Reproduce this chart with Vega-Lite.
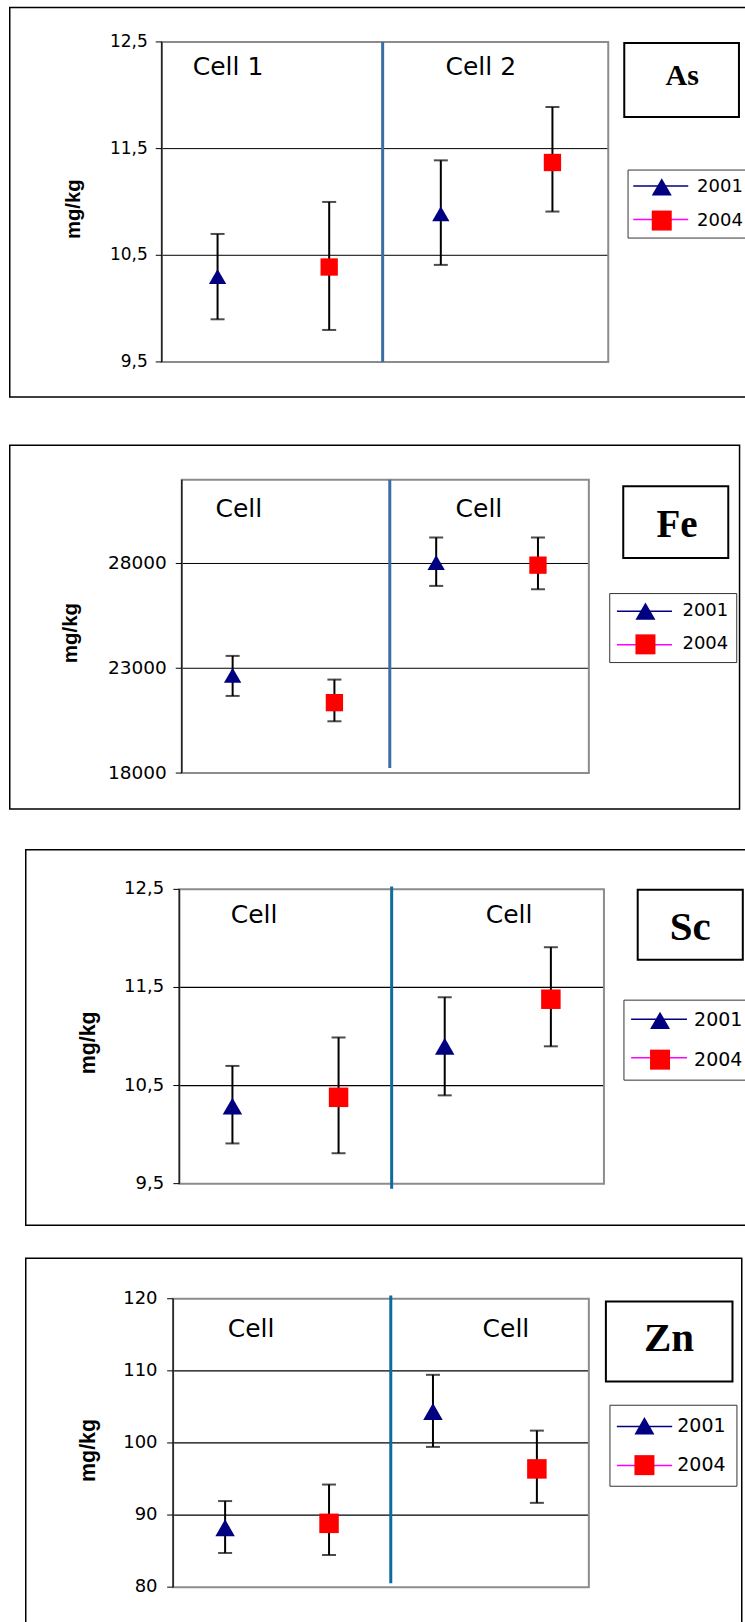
{
  "$schema": "https://vega.github.io/schema/vega-lite/v6.json",
  "padding": {"left": 8.75, "top": 6.55, "right": 0, "bottom": 0},
  "background": "white",
  "datasets": {
    "as": [
      {"cell": "Cell 1", "year": "2001", "mean": 10.30, "low": 9.90, "high": 10.70},
      {"cell": "Cell 1", "year": "2004", "mean": 10.39, "low": 9.80, "high": 11.00},
      {"cell": "Cell 2", "year": "2001", "mean": 10.89, "low": 10.41, "high": 11.39},
      {"cell": "Cell 2", "year": "2004", "mean": 11.37, "low": 10.91, "high": 11.89}
    ],
    "fe": [
      {"cell": "Cell 1", "year": "2001", "mean": 22670, "low": 21680, "high": 23590},
      {"cell": "Cell 1", "year": "2004", "mean": 21360, "low": 20470, "high": 22460},
      {"cell": "Cell 2", "year": "2001", "mean": 28050, "low": 26930, "high": 29240},
      {"cell": "Cell 2", "year": "2004", "mean": 27920, "low": 26770, "high": 29240}
    ],
    "sc": [
      {"cell": "Cell 1", "year": "2001", "mean": 10.29, "low": 9.91, "high": 10.70},
      {"cell": "Cell 1", "year": "2004", "mean": 10.38, "low": 9.81, "high": 10.99},
      {"cell": "Cell 2", "year": "2001", "mean": 10.90, "low": 10.40, "high": 11.40},
      {"cell": "Cell 2", "year": "2004", "mean": 11.38, "low": 10.90, "high": 11.91}
    ],
    "zn": [
      {"cell": "Cell 1", "year": "2001", "mean": 88.24, "low": 84.74, "high": 91.94},
      {"cell": "Cell 1", "year": "2004", "mean": 88.85, "low": 84.46, "high": 94.23},
      {"cell": "Cell 2", "year": "2001", "mean": 104.36, "low": 99.45, "high": 109.45},
      {"cell": "Cell 2", "year": "2004", "mean": 96.40, "low": 91.69, "high": 101.71}
    ],
    "ticks_dec": [
      {"v": 9.5, "label": "9,5"}, {"v": 10.5, "label": "10,5"}, {"v": 11.5, "label": "11,5"}, {"v": 12.5, "label": "12,5"}
    ],
    "ticks_fe": [
      {"v": 18000, "label": "18000"}, {"v": 23000, "label": "23000"}, {"v": 28000, "label": "28000"}
    ],
    "ticks_zn": [
      {"v": 80, "label": "80"}, {"v": 90, "label": "90"}, {"v": 100, "label": "100"}, {"v": 110, "label": "110"}, {"v": 120, "label": "120"}
    ]
  },
  "spacing": 45.8,
  "resolve": {"scale": {"color": "independent", "shape": "independent", "xOffset": "independent"}, "legend": {"color": "independent", "shape": "independent"}},
  "vconcat": [
    {
      "width": 745, "height": 389.4,
      "data": {"name": "as"},
      "layer": [
        {
          "data": {"name": "ticks_dec"},
          "transform": [{"filter": "datum.v > 9.5 && datum.v < 12.5"}],
          "mark": {"type": "rule", "color": "#000", "strokeWidth": 1},
          "encoding": {
            "x": {"datum": "Cell 1", "type": "nominal", "bandPosition": 0, "scale": {"type": "band", "domain": ["Cell 1", "Cell 2"], "range": [152, 598.5], "paddingInner": 0, "paddingOuter": 0}, "axis": null},
            "x2": {"datum": "Cell 2", "bandPosition": 1},
            "y": {"field": "v", "type": "quantitative", "scale": {"domain": [9.5, 12.5], "range": [354.4, 34.4], "nice": false, "zero": false}, "axis": null}
          }
        },
        {
          "data": {"values": [{}]},
          "mark": {"type": "rect", "fill": "transparent", "stroke": "#8c8c8c", "strokeWidth": 2},
          "encoding": {"x": {"datum": "Cell 1", "type": "nominal", "bandPosition": 0, "axis": null}, "x2": {"datum": "Cell 2", "bandPosition": 1}, "y": {"datum": 12.5, "type": "quantitative", "axis": null}, "y2": {"datum": 9.5}}
        },
        {
          "data": {"values": [{}]},
          "mark": {"type": "rule", "color": "#222", "strokeWidth": 1.5},
          "encoding": {"x": {"datum": "Cell 1", "type": "nominal", "bandPosition": 0, "axis": null}, "y": {"datum": 12.5, "type": "quantitative", "axis": null}, "y2": {"datum": 9.5}}
        },
        {
          "data": {"name": "ticks_dec"},
          "mark": {"type": "rule", "color": "#000", "strokeWidth": 1},
          "encoding": {"x": {"datum": "Cell 1", "type": "nominal", "bandPosition": -0.0269, "axis": null}, "x2": {"datum": "Cell 1", "bandPosition": 0}, "y": {"field": "v", "type": "quantitative", "axis": null}}
        },
        {
          "data": {"name": "ticks_dec"},
          "mark": {"type": "text", "align": "right", "baseline": "middle", "font": "DejaVu Sans", "fontSize": 17, "color": "#000"},
          "encoding": {"x": {"datum": "Cell 1", "type": "nominal", "bandPosition": -0.0627, "axis": null}, "y": {"field": "v", "type": "quantitative", "axis": null}, "text": {"field": "label"}}
        },
        {
          "data": {"values": [{}]},
          "mark": {"type": "text", "angle": 270, "align": "center", "baseline": "middle", "font": "Liberation Sans", "fontWeight": "bold", "fontSize": 20.3, "color": "#000"},
          "encoding": {"x": {"datum": "Cell 1", "type": "nominal", "bandPosition": -0.395, "axis": null}, "y": {"datum": 10.932, "type": "quantitative", "axis": null}, "text": {"value": "mg/kg"}}
        },
        {
          "mark": {"type": "rule", "color": "#000", "strokeWidth": 2},
          "encoding": {
            "x": {"field": "cell", "type": "nominal", "axis": null},
            "xOffset": {"field": "year", "type": "nominal", "scale": {"paddingInner": 0, "paddingOuter": 0}},
            "y": {"field": "low", "type": "quantitative", "axis": null},
            "y2": {"field": "high"}
          }
        },
        {
          "mark": {"type": "tick", "orient": "horizontal", "size": 14, "thickness": 2, "color": "#000"},
          "encoding": {"x": {"field": "cell", "type": "nominal", "axis": null}, "xOffset": {"field": "year", "type": "nominal"}, "y": {"field": "low", "type": "quantitative", "axis": null}}
        },
        {
          "mark": {"type": "tick", "orient": "horizontal", "size": 14, "thickness": 2, "color": "#000"},
          "encoding": {"x": {"field": "cell", "type": "nominal", "axis": null}, "xOffset": {"field": "year", "type": "nominal"}, "y": {"field": "high", "type": "quantitative", "axis": null}}
        },
        {
          "data": {"values": [{}]},
          "mark": {"type": "rule", "color": "#000080", "strokeWidth": 1.5},
          "encoding": {"x": {"datum": "Cell 2", "type": "nominal", "bandPosition": 1.112, "axis": null}, "x2": {"datum": "Cell 2", "bandPosition": 1.3583}, "y": {"datum": 11.150, "type": "quantitative", "axis": null}}
        },
        {
          "data": {"values": [{}]},
          "mark": {"type": "rule", "color": "#FF00FF", "strokeWidth": 1.5},
          "encoding": {"x": {"datum": "Cell 2", "type": "nominal", "bandPosition": 1.112, "axis": null}, "x2": {"datum": "Cell 2", "bandPosition": 1.3583}, "y": {"datum": 10.835, "type": "quantitative", "axis": null}}
        },
        {
          "mark": {"type": "point", "filled": true, "size": 300, "opacity": 1},
          "encoding": {
            "x": {"field": "cell", "type": "nominal", "axis": null},
            "xOffset": {"field": "year", "type": "nominal"},
            "y": {"field": "mean", "type": "quantitative", "axis": null},
            "shape": {"field": "year", "type": "nominal", "scale": {"domain": ["2001", "2004"], "range": ["triangle-up", "square"]}, "legend": null},
            "color": {"field": "year", "type": "nominal", "scale": {"domain": ["2001", "2004"], "range": ["#000080", "#FF0000"]},
              "legend": {"orient": "none", "legendX": 617.8, "legendY": 162, "title": null, "direction": "vertical", "padding": 6.4, "rowPadding": 13.6, "symbolSize": 400, "symbolOffset": 16.8, "labelOffset": 24.3, "labelFontSize": 18, "labelFont": "DejaVu Sans", "labelColor": "#000", "strokeColor": "#333", "fillColor": "transparent",
                "encode": {"symbols": {
                  "shape": {"condition": {"test": "datum.value == '2001'", "value": "M-0.9,0.78L0,-0.78L0.9,0.78Z"}, "value": "M-0.97,-0.97L0.97,-0.97L0.97,0.97L-0.97,0.97Z"}
                }}}}
          }
        },
        {
          "data": {"values": [{}]},
          "mark": {"type": "rule", "color": "#3b6ea5", "strokeWidth": 3},
          "encoding": {"x": {"datum": "Cell 2", "type": "nominal", "bandPosition": -0.0105, "axis": null}, "y": {"datum": 12.5, "type": "quantitative", "axis": null}, "y2": {"datum": 9.5}}
        },
        {
          "data": {"values": [{}]},
          "mark": {"type": "text", "font": "DejaVu Sans", "fontSize": 25, "align": "center", "baseline": "alphabetic", "color": "#000"},
          "encoding": {"x": {"datum": "Cell 1", "type": "nominal", "bandPosition": 0.297, "axis": null}, "y": {"datum": 12.19, "type": "quantitative", "axis": null}, "text": {"value": "Cell 1"}}
        },
        {
          "data": {"values": [{}]},
          "mark": {"type": "text", "font": "DejaVu Sans", "fontSize": 25, "align": "center", "baseline": "alphabetic", "color": "#000"},
          "encoding": {"x": {"datum": "Cell 2", "type": "nominal", "bandPosition": 0.429, "axis": null}, "y": {"datum": 12.19, "type": "quantitative", "axis": null}, "text": {"value": "Cell 2"}}
        },
        {
          "data": {"values": [{}]},
          "mark": {"type": "rect", "fill": "#fff", "stroke": "#000", "strokeWidth": 2},
          "encoding": {"x": {"datum": "Cell 2", "type": "nominal", "bandPosition": 1.0717, "axis": null}, "x2": {"datum": "Cell 2", "bandPosition": 1.5855}, "y": {"datum": 12.49, "type": "quantitative", "axis": null}, "y2": {"datum": 11.797}}
        },
        {
          "data": {"values": [{}]},
          "mark": {"type": "text", "font": "Liberation Serif", "fontWeight": "bold", "fontSize": 30, "align": "center", "baseline": "alphabetic", "color": "#000"},
          "encoding": {"x": {"datum": "Cell 2", "type": "nominal", "bandPosition": 1.3315, "axis": null}, "y": {"datum": 12.094, "type": "quantitative", "axis": null}, "text": {"value": "As"}}
        }
      ]
    },
    {
      "spacing": 38.3,
      "resolve": {"scale": {"color": "independent", "shape": "independent", "xOffset": "independent"}, "legend": {"color": "independent", "shape": "independent"}},
      "vconcat": [
        {
          "width": 729.8, "height": 363.7,
          "data": {"name": "fe"},
          "layer": [
            {
              "data": {"name": "ticks_fe"},
              "transform": [{"filter": "datum.v > 18000"}],
              "mark": {"type": "rule", "color": "#000", "strokeWidth": 1},
              "encoding": {
                "x": {"datum": "Cell 1", "type": "nominal", "bandPosition": 0, "scale": {"type": "band", "domain": ["Cell 1", "Cell 2"], "range": [172, 579.1], "paddingInner": 0, "paddingOuter": 0}, "axis": null},
                "x2": {"datum": "Cell 2", "bandPosition": 1},
                "y": {"field": "v", "type": "quantitative", "scale": {"domain": [18000, 32000], "range": [327.7, 34.3], "nice": false, "zero": false}, "axis": null}
              }
            },
            {
              "data": {"values": [{}]},
              "mark": {"type": "rect", "fill": "transparent", "stroke": "#8c8c8c", "strokeWidth": 2},
              "encoding": {"x": {"datum": "Cell 1", "type": "nominal", "bandPosition": 0, "axis": null}, "x2": {"datum": "Cell 2", "bandPosition": 1}, "y": {"datum": 32000, "type": "quantitative", "axis": null}, "y2": {"datum": 18000}}
            },
            {
              "data": {"values": [{}]},
              "mark": {"type": "rule", "color": "#222", "strokeWidth": 1.5},
              "encoding": {"x": {"datum": "Cell 1", "type": "nominal", "bandPosition": 0, "axis": null}, "y": {"datum": 32000, "type": "quantitative", "axis": null}, "y2": {"datum": 18000}}
            },
            {
              "data": {"name": "ticks_fe"},
              "mark": {"type": "rule", "color": "#000", "strokeWidth": 1},
              "encoding": {"x": {"datum": "Cell 1", "type": "nominal", "bandPosition": -0.0295, "axis": null}, "x2": {"datum": "Cell 1", "bandPosition": 0}, "y": {"field": "v", "type": "quantitative", "axis": null}}
            },
            {
              "data": {"name": "ticks_fe"},
              "mark": {"type": "text", "align": "right", "baseline": "middle", "font": "DejaVu Sans", "fontSize": 18.5, "color": "#000"},
              "encoding": {"x": {"datum": "Cell 1", "type": "nominal", "bandPosition": -0.0737, "axis": null}, "y": {"field": "v", "type": "quantitative", "axis": null}, "text": {"field": "label"}}
            },
            {
              "data": {"values": [{}]},
              "mark": {"type": "text", "angle": 270, "align": "center", "baseline": "middle", "font": "Liberation Sans", "fontWeight": "bold", "fontSize": 20.5, "color": "#000"},
              "encoding": {"x": {"datum": "Cell 1", "type": "nominal", "bandPosition": -0.5424, "axis": null}, "y": {"datum": 24680, "type": "quantitative", "axis": null}, "text": {"value": "mg/kg"}}
            },
            {
              "mark": {"type": "rule", "color": "#000", "strokeWidth": 2},
              "encoding": {
                "x": {"field": "cell", "type": "nominal", "axis": null},
                "xOffset": {"field": "year", "type": "nominal", "scale": {"paddingInner": 0, "paddingOuter": 0}},
                "y": {"field": "low", "type": "quantitative", "axis": null},
                "y2": {"field": "high"}
              }
            },
            {
              "mark": {"type": "tick", "orient": "horizontal", "size": 14, "thickness": 2, "color": "#000"},
              "encoding": {"x": {"field": "cell", "type": "nominal", "axis": null}, "xOffset": {"field": "year", "type": "nominal"}, "y": {"field": "low", "type": "quantitative", "axis": null}}
            },
            {
              "mark": {"type": "tick", "orient": "horizontal", "size": 14, "thickness": 2, "color": "#000"},
              "encoding": {"x": {"field": "cell", "type": "nominal", "axis": null}, "xOffset": {"field": "year", "type": "nominal"}, "y": {"field": "high", "type": "quantitative", "axis": null}}
            },
            {
              "data": {"values": [{}]},
              "mark": {"type": "rule", "color": "#000080", "strokeWidth": 1.5},
              "encoding": {"x": {"datum": "Cell 2", "type": "nominal", "bandPosition": 1.138, "axis": null}, "x2": {"datum": "Cell 2", "bandPosition": 1.4083}, "y": {"datum": 25715, "type": "quantitative", "axis": null}}
            },
            {
              "data": {"values": [{}]},
              "mark": {"type": "rule", "color": "#FF00FF", "strokeWidth": 1.5},
              "encoding": {"x": {"datum": "Cell 2", "type": "nominal", "bandPosition": 1.138, "axis": null}, "x2": {"datum": "Cell 2", "bandPosition": 1.4083}, "y": {"datum": 24126, "type": "quantitative", "axis": null}}
            },
            {
              "mark": {"type": "point", "filled": true, "size": 300, "opacity": 1},
              "encoding": {
                "x": {"field": "cell", "type": "nominal", "axis": null},
                "xOffset": {"field": "year", "type": "nominal"},
                "y": {"field": "mean", "type": "quantitative", "axis": null},
                "shape": {"field": "year", "type": "nominal", "scale": {"domain": ["2001", "2004"], "range": ["triangle-up", "square"]}, "legend": null},
                "color": {"field": "year", "type": "nominal", "scale": {"domain": ["2001", "2004"], "range": ["#000080", "#FF0000"]},
                  "legend": {"orient": "none", "legendX": 599.5, "legendY": 147.7, "title": null, "direction": "vertical", "padding": 7, "rowPadding": 13.3, "symbolSize": 400, "symbolOffset": 18.2, "labelOffset": 26, "labelFontSize": 18, "labelFont": "DejaVu Sans", "labelColor": "#000", "strokeColor": "#333", "fillColor": "transparent",
                    "encode": {"symbols": {
                      "shape": {"condition": {"test": "datum.value == '2001'", "value": "M-0.9,0.78L0,-0.78L0.9,0.78Z"}, "value": "M-0.97,-0.97L0.97,-0.97L0.97,0.97L-0.97,0.97Z"}
                    }}}}
              }
            },
            {
              "data": {"values": [{}]},
              "mark": {"type": "rule", "color": "#3b6ea5", "strokeWidth": 3},
              "encoding": {"x": {"datum": "Cell 2", "type": "nominal", "bandPosition": 0.022, "axis": null}, "y": {"datum": 32000, "type": "quantitative", "axis": null}, "y2": {"datum": 18240}}
            },
            {
              "data": {"values": [{}]},
              "mark": {"type": "text", "font": "DejaVu Sans", "fontSize": 25, "align": "center", "baseline": "alphabetic", "color": "#000"},
              "encoding": {"x": {"datum": "Cell 1", "type": "nominal", "bandPosition": 0.2805, "axis": null}, "y": {"datum": 30201, "type": "quantitative", "axis": null}, "text": {"value": "Cell"}}
            },
            {
              "data": {"values": [{}]},
              "mark": {"type": "text", "font": "DejaVu Sans", "fontSize": 25, "align": "center", "baseline": "alphabetic", "color": "#000"},
              "encoding": {"x": {"datum": "Cell 2", "type": "nominal", "bandPosition": 0.46, "axis": null}, "y": {"datum": 30201, "type": "quantitative", "axis": null}, "text": {"value": "Cell"}}
            },
            {
              "data": {"values": [{}]},
              "mark": {"type": "rect", "fill": "#fff", "stroke": "#000", "strokeWidth": 2},
              "encoding": {"x": {"datum": "Cell 2", "type": "nominal", "bandPosition": 1.169, "axis": null}, "x2": {"datum": "Cell 2", "bandPosition": 1.685}, "y": {"datum": 31680, "type": "quantitative", "axis": null}, "y2": {"datum": 28259}}
            },
            {
              "data": {"values": [{}]},
              "mark": {"type": "text", "font": "Liberation Serif", "fontWeight": "bold", "fontSize": 39, "align": "center", "baseline": "alphabetic", "color": "#000"},
              "encoding": {"x": {"datum": "Cell 2", "type": "nominal", "bandPosition": 1.433, "axis": null}, "y": {"datum": 29261, "type": "quantitative", "axis": null}, "text": {"value": "Fe"}}
            }
          ]
        },
        {
          "spacing": 30.5,
          "resolve": {"scale": {"color": "independent", "shape": "independent", "xOffset": "independent"}, "legend": {"color": "independent", "shape": "independent"}},
          "vconcat": [
            {
              "spacing": 14,
              "resolve": {"scale": {"color": "independent", "shape": "independent", "xOffset": "independent"}, "legend": {"color": "independent", "shape": "independent"}},
              "hconcat": [
                {"width": 1, "height": 1, "view": {"stroke": null}, "data": {"values": [{}]}, "mark": {"type": "point", "opacity": 0, "size": 0}, "encoding": {}},
                {
                  "width": 730, "height": 375.7,
                  "data": {"name": "sc"},
                  "layer": [
                    {
                      "data": {"name": "ticks_dec"},
                      "transform": [{"filter": "datum.v > 9.5 && datum.v < 12.5"}],
                      "mark": {"type": "rule", "color": "#000", "strokeWidth": 1.2},
                      "encoding": {
                        "x": {"datum": "Cell 1", "type": "nominal", "bandPosition": 0, "scale": {"type": "band", "domain": ["Cell 1", "Cell 2"], "range": [153.6, 578.2], "paddingInner": 0, "paddingOuter": 0}, "axis": null},
                        "x2": {"datum": "Cell 2", "bandPosition": 1},
                        "y": {"field": "v", "type": "quantitative", "scale": {"domain": [9.5, 12.5], "range": [334, 39.7], "nice": false, "zero": false}, "axis": null}
                      }
                    },
                    {
                      "data": {"values": [{}]},
                      "mark": {"type": "rect", "fill": "transparent", "stroke": "#8c8c8c", "strokeWidth": 2},
                      "encoding": {"x": {"datum": "Cell 1", "type": "nominal", "bandPosition": 0, "axis": null}, "x2": {"datum": "Cell 2", "bandPosition": 1}, "y": {"datum": 12.5, "type": "quantitative", "axis": null}, "y2": {"datum": 9.5}}
                    },
                    {
                      "data": {"values": [{}]},
                      "mark": {"type": "rule", "color": "#222", "strokeWidth": 1.5},
                      "encoding": {"x": {"datum": "Cell 1", "type": "nominal", "bandPosition": 0, "axis": null}, "y": {"datum": 12.5, "type": "quantitative", "axis": null}, "y2": {"datum": 9.5}}
                    },
                    {
                      "data": {"name": "ticks_dec"},
                      "mark": {"type": "rule", "color": "#000", "strokeWidth": 1},
                      "encoding": {"x": {"datum": "Cell 1", "type": "nominal", "bandPosition": -0.0283, "axis": null}, "x2": {"datum": "Cell 1", "bandPosition": 0}, "y": {"field": "v", "type": "quantitative", "axis": null}}
                    },
                    {
                      "data": {"name": "ticks_dec"},
                      "mark": {"type": "text", "align": "right", "baseline": "middle", "font": "DejaVu Sans", "fontSize": 18, "color": "#000"},
                      "encoding": {"x": {"datum": "Cell 1", "type": "nominal", "bandPosition": -0.0716, "axis": null}, "y": {"field": "v", "type": "quantitative", "axis": null}, "text": {"field": "label"}}
                    },
                    {
                      "data": {"values": [{}]},
                      "mark": {"type": "text", "angle": 270, "align": "center", "baseline": "middle", "font": "Liberation Sans", "fontWeight": "bold", "fontSize": 21.4, "color": "#000"},
                      "encoding": {"x": {"datum": "Cell 1", "type": "nominal", "bandPosition": -0.4272, "axis": null}, "y": {"datum": 10.935, "type": "quantitative", "axis": null}, "text": {"value": "mg/kg"}}
                    },
                    {
                      "mark": {"type": "rule", "color": "#000", "strokeWidth": 2},
                      "encoding": {
                        "x": {"field": "cell", "type": "nominal", "axis": null},
                        "xOffset": {"field": "year", "type": "nominal", "scale": {"paddingInner": 0, "paddingOuter": 0}},
                        "y": {"field": "low", "type": "quantitative", "axis": null},
                        "y2": {"field": "high"}
                      }
                    },
                    {
                      "mark": {"type": "tick", "orient": "horizontal", "size": 14, "thickness": 2, "color": "#000"},
                      "encoding": {"x": {"field": "cell", "type": "nominal", "axis": null}, "xOffset": {"field": "year", "type": "nominal"}, "y": {"field": "low", "type": "quantitative", "axis": null}}
                    },
                    {
                      "mark": {"type": "tick", "orient": "horizontal", "size": 14, "thickness": 2, "color": "#000"},
                      "encoding": {"x": {"field": "cell", "type": "nominal", "axis": null}, "xOffset": {"field": "year", "type": "nominal"}, "y": {"field": "high", "type": "quantitative", "axis": null}}
                    },
                    {
                      "data": {"values": [{}]},
                      "mark": {"type": "rule", "color": "#000080", "strokeWidth": 1.5},
                      "encoding": {"x": {"datum": "Cell 2", "type": "nominal", "bandPosition": 1.128, "axis": null}, "x2": {"datum": "Cell 2", "bandPosition": 1.391}, "y": {"datum": 11.175, "type": "quantitative", "axis": null}}
                    },
                    {
                      "data": {"values": [{}]},
                      "mark": {"type": "rule", "color": "#FF00FF", "strokeWidth": 1.5},
                      "encoding": {"x": {"datum": "Cell 2", "type": "nominal", "bandPosition": 1.128, "axis": null}, "x2": {"datum": "Cell 2", "bandPosition": 1.391}, "y": {"datum": 10.784, "type": "quantitative", "axis": null}}
                    },
                    {
                      "mark": {"type": "point", "filled": true, "size": 380, "opacity": 1},
                      "encoding": {
                        "x": {"field": "cell", "type": "nominal", "axis": null},
                        "xOffset": {"field": "year", "type": "nominal"},
                        "y": {"field": "mean", "type": "quantitative", "axis": null},
                        "shape": {"field": "year", "type": "nominal", "scale": {"domain": ["2001", "2004"], "range": ["triangle-up", "square"]}, "legend": null},
                        "color": {"field": "year", "type": "nominal", "scale": {"domain": ["2001", "2004"], "range": ["#000080", "#FF0000"]},
                          "legend": {"orient": "none", "legendX": 597.7, "legendY": 150, "title": null, "direction": "vertical", "padding": 9.7, "rowPadding": 18.3, "symbolSize": 400, "symbolOffset": 15.9, "labelOffset": 23, "labelFontSize": 19, "labelFont": "DejaVu Sans", "labelColor": "#000", "strokeColor": "#333", "fillColor": "transparent",
                            "encode": {"symbols": {
                              "shape": {"condition": {"test": "datum.value == '2001'", "value": "M-0.9,0.78L0,-0.78L0.9,0.78Z"}, "value": "M-0.97,-0.97L0.97,-0.97L0.97,0.97L-0.97,0.97Z"}
                            }}}}
                      }
                    },
                    {
                      "data": {"values": [{}]},
                      "mark": {"type": "rule", "color": "#0d6b9e", "strokeWidth": 3},
                      "encoding": {"x": {"datum": "Cell 2", "type": "nominal", "bandPosition": 0, "axis": null}, "y": {"datum": 12.528, "type": "quantitative", "axis": null}, "y2": {"datum": 9.449}}
                    },
                    {
                      "data": {"values": [{}]},
                      "mark": {"type": "text", "font": "DejaVu Sans", "fontSize": 25, "align": "center", "baseline": "alphabetic", "color": "#000"},
                      "encoding": {"x": {"datum": "Cell 1", "type": "nominal", "bandPosition": 0.352, "axis": null}, "y": {"datum": 12.156, "type": "quantitative", "axis": null}, "text": {"value": "Cell"}}
                    },
                    {
                      "data": {"values": [{}]},
                      "mark": {"type": "text", "font": "DejaVu Sans", "fontSize": 25, "align": "center", "baseline": "alphabetic", "color": "#000"},
                      "encoding": {"x": {"datum": "Cell 2", "type": "nominal", "bandPosition": 0.553, "axis": null}, "y": {"datum": 12.156, "type": "quantitative", "axis": null}, "text": {"value": "Cell"}}
                    },
                    {
                      "data": {"values": [{}]},
                      "mark": {"type": "rect", "fill": "#fff", "stroke": "#000", "strokeWidth": 2},
                      "encoding": {"x": {"datum": "Cell 2", "type": "nominal", "bandPosition": 1.159, "axis": null}, "x2": {"datum": "Cell 2", "bandPosition": 1.654}, "y": {"datum": 12.497, "type": "quantitative", "axis": null}, "y2": {"datum": 11.783}}
                    },
                    {
                      "data": {"values": [{}]},
                      "mark": {"type": "text", "font": "Liberation Serif", "fontWeight": "bold", "fontSize": 41, "align": "center", "baseline": "alphabetic", "color": "#000"},
                      "encoding": {"x": {"datum": "Cell 2", "type": "nominal", "bandPosition": 1.406, "axis": null}, "y": {"datum": 11.98, "type": "quantitative", "axis": null}, "text": {"value": "Sc"}}
                    }
                  ]
                }
              ]
            },
            {
              "spacing": 14,
              "resolve": {"scale": {"color": "independent", "shape": "independent", "xOffset": "independent"}, "legend": {"color": "independent", "shape": "independent"}},
              "hconcat": [
                {"width": 1, "height": 1, "view": {"stroke": null}, "data": {"values": [{}]}, "mark": {"type": "point", "opacity": 0, "size": 0}, "encoding": {}},
                {
                  "width": 716, "height": 380,
                  "data": {"name": "zn"},
                  "layer": [
                    {
                      "data": {"name": "ticks_zn"},
                      "transform": [{"filter": "datum.v > 80 && datum.v < 120"}],
                      "mark": {"type": "rule", "color": "#000", "strokeWidth": 1.2},
                      "encoding": {
                        "x": {"datum": "Cell 1", "type": "nominal", "bandPosition": 0, "scale": {"type": "band", "domain": ["Cell 1", "Cell 2"], "range": [147.4, 563.1], "paddingInner": 0, "paddingOuter": 0}, "axis": null},
                        "x2": {"datum": "Cell 2", "bandPosition": 1},
                        "y": {"field": "v", "type": "quantitative", "scale": {"domain": [80, 120], "range": [329, 40.6], "nice": false, "zero": false}, "axis": null}
                      }
                    },
                    {
                      "data": {"values": [{}]},
                      "mark": {"type": "rect", "fill": "transparent", "stroke": "#8c8c8c", "strokeWidth": 2},
                      "encoding": {"x": {"datum": "Cell 1", "type": "nominal", "bandPosition": 0, "axis": null}, "x2": {"datum": "Cell 2", "bandPosition": 1}, "y": {"datum": 120, "type": "quantitative", "axis": null}, "y2": {"datum": 80}}
                    },
                    {
                      "data": {"values": [{}]},
                      "mark": {"type": "rule", "color": "#222", "strokeWidth": 1.5},
                      "encoding": {"x": {"datum": "Cell 1", "type": "nominal", "bandPosition": 0, "axis": null}, "y": {"datum": 120, "type": "quantitative", "axis": null}, "y2": {"datum": 80}}
                    },
                    {
                      "data": {"name": "ticks_zn"},
                      "mark": {"type": "rule", "color": "#000", "strokeWidth": 1},
                      "encoding": {"x": {"datum": "Cell 1", "type": "nominal", "bandPosition": -0.0289, "axis": null}, "x2": {"datum": "Cell 1", "bandPosition": 0}, "y": {"field": "v", "type": "quantitative", "axis": null}}
                    },
                    {
                      "data": {"name": "ticks_zn"},
                      "mark": {"type": "text", "align": "right", "baseline": "middle", "font": "DejaVu Sans", "fontSize": 18, "color": "#000"},
                      "encoding": {"x": {"datum": "Cell 1", "type": "nominal", "bandPosition": -0.075, "axis": null}, "y": {"field": "v", "type": "quantitative", "axis": null}, "text": {"field": "label"}}
                    },
                    {
                      "data": {"values": [{}]},
                      "mark": {"type": "text", "angle": 270, "align": "center", "baseline": "middle", "font": "Liberation Sans", "fontWeight": "bold", "fontSize": 21.4, "color": "#000"},
                      "encoding": {"x": {"datum": "Cell 1", "type": "nominal", "bandPosition": -0.4065, "axis": null}, "y": {"datum": 98.96, "type": "quantitative", "axis": null}, "text": {"value": "mg/kg"}}
                    },
                    {
                      "mark": {"type": "rule", "color": "#000", "strokeWidth": 2},
                      "encoding": {
                        "x": {"field": "cell", "type": "nominal", "axis": null},
                        "xOffset": {"field": "year", "type": "nominal", "scale": {"paddingInner": 0, "paddingOuter": 0}},
                        "y": {"field": "low", "type": "quantitative", "axis": null},
                        "y2": {"field": "high"}
                      }
                    },
                    {
                      "mark": {"type": "tick", "orient": "horizontal", "size": 14, "thickness": 2, "color": "#000"},
                      "encoding": {"x": {"field": "cell", "type": "nominal", "axis": null}, "xOffset": {"field": "year", "type": "nominal"}, "y": {"field": "low", "type": "quantitative", "axis": null}}
                    },
                    {
                      "mark": {"type": "tick", "orient": "horizontal", "size": 14, "thickness": 2, "color": "#000"},
                      "encoding": {"x": {"field": "cell", "type": "nominal", "axis": null}, "xOffset": {"field": "year", "type": "nominal"}, "y": {"field": "high", "type": "quantitative", "axis": null}}
                    },
                    {
                      "data": {"values": [{}]},
                      "mark": {"type": "rule", "color": "#000080", "strokeWidth": 1.5},
                      "encoding": {"x": {"datum": "Cell 2", "type": "nominal", "bandPosition": 1.1347, "axis": null}, "x2": {"datum": "Cell 2", "bandPosition": 1.4008}, "y": {"datum": 102.29, "type": "quantitative", "axis": null}}
                    },
                    {
                      "data": {"values": [{}]},
                      "mark": {"type": "rule", "color": "#FF00FF", "strokeWidth": 1.5},
                      "encoding": {"x": {"datum": "Cell 2", "type": "nominal", "bandPosition": 1.1347, "axis": null}, "x2": {"datum": "Cell 2", "bandPosition": 1.4008}, "y": {"datum": 96.88, "type": "quantitative", "axis": null}}
                    },
                    {
                      "mark": {"type": "point", "filled": true, "size": 380, "opacity": 1},
                      "encoding": {
                        "x": {"field": "cell", "type": "nominal", "axis": null},
                        "xOffset": {"field": "year", "type": "nominal"},
                        "y": {"field": "mean", "type": "quantitative", "axis": null},
                        "shape": {"field": "year", "type": "nominal", "scale": {"domain": ["2001", "2004"], "range": ["triangle-up", "square"]}, "legend": null},
                        "color": {"field": "year", "type": "nominal", "scale": {"domain": ["2001", "2004"], "range": ["#000080", "#FF0000"]},
                          "legend": {"orient": "none", "legendX": 583.7, "legendY": 146.6, "title": null, "direction": "vertical", "padding": 10, "rowPadding": 18.4, "symbolSize": 400, "symbolOffset": 14, "labelOffset": 21.8, "labelFontSize": 19, "labelFont": "DejaVu Sans", "labelColor": "#000", "strokeColor": "#333", "fillColor": "transparent",
                            "encode": {"symbols": {
                              "shape": {"condition": {"test": "datum.value == '2001'", "value": "M-0.9,0.78L0,-0.78L0.9,0.78Z"}, "value": "M-0.97,-0.97L0.97,-0.97L0.97,0.97L-0.97,0.97Z"}
                            }}}}
                      }
                    },
                    {
                      "data": {"values": [{}]},
                      "mark": {"type": "rule", "color": "#0d6b9e", "strokeWidth": 3},
                      "encoding": {"x": {"datum": "Cell 2", "type": "nominal", "bandPosition": 0.047, "axis": null}, "y": {"datum": 120.46, "type": "quantitative", "axis": null}, "y2": {"datum": 80.55}}
                    },
                    {
                      "data": {"values": [{}]},
                      "mark": {"type": "text", "font": "DejaVu Sans", "fontSize": 25, "align": "center", "baseline": "alphabetic", "color": "#000"},
                      "encoding": {"x": {"datum": "Cell 1", "type": "nominal", "bandPosition": 0.375, "axis": null}, "y": {"datum": 114.63, "type": "quantitative", "axis": null}, "text": {"value": "Cell"}}
                    },
                    {
                      "data": {"values": [{}]},
                      "mark": {"type": "text", "font": "DejaVu Sans", "fontSize": 25, "align": "center", "baseline": "alphabetic", "color": "#000"},
                      "encoding": {"x": {"datum": "Cell 2", "type": "nominal", "bandPosition": 0.601, "axis": null}, "y": {"datum": 114.63, "type": "quantitative", "axis": null}, "text": {"value": "Cell"}}
                    },
                    {
                      "data": {"values": [{}]},
                      "mark": {"type": "rect", "fill": "#fff", "stroke": "#000", "strokeWidth": 2},
                      "encoding": {"x": {"datum": "Cell 2", "type": "nominal", "bandPosition": 1.082, "axis": null}, "x2": {"datum": "Cell 2", "bandPosition": 1.691}, "y": {"datum": 119.63, "type": "quantitative", "axis": null}, "y2": {"datum": 108.53}}
                    },
                    {
                      "data": {"values": [{}]},
                      "mark": {"type": "text", "font": "Liberation Serif", "fontWeight": "bold", "fontSize": 41, "align": "center", "baseline": "alphabetic", "color": "#000"},
                      "encoding": {"x": {"datum": "Cell 2", "type": "nominal", "bandPosition": 1.386, "axis": null}, "y": {"datum": 112.69, "type": "quantitative", "axis": null}, "text": {"value": "Zn"}}
                    }
                  ]
                }
              ]
            }
          ]
        }
      ]
    }
  ],
  "config": {
    "view": {"stroke": "#000", "strokeWidth": 1.5},
    "legend": {"labelFont": "DejaVu Sans", "labelColor": "#000"}
  }
}
